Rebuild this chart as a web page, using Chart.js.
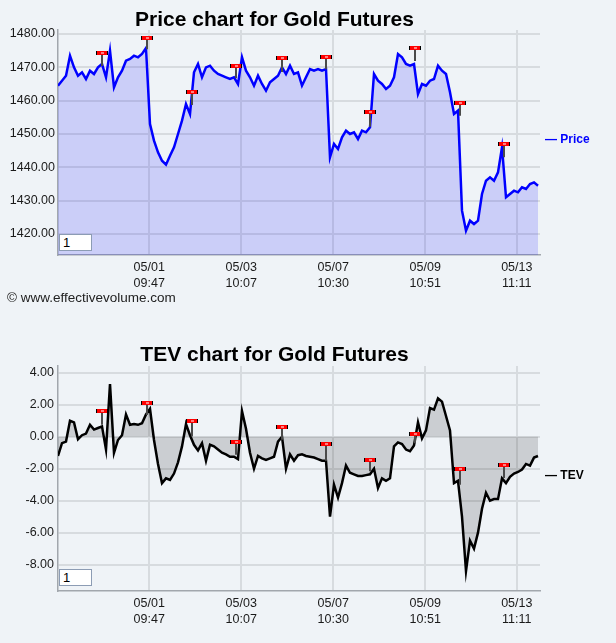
<!DOCTYPE html>
<html>
<head>
<meta charset="utf-8">
<script src="https://cdn.jsdelivr.net/npm/chart.js@4.4.0/dist/chart.umd.min.js"></script>
<style>
  html, body { margin: 0; padding: 0; background: #eff3f7; }
  body { width: 616px; height: 643px; position: relative; overflow: hidden; font-family: "Liberation Sans", Arial, sans-serif; color: #111; }
  canvas { position: absolute; left: 0; }
  #priceCanvas { top: 0; }
  #tevCanvas { top: 310px; }
  .title { position: absolute; left: 0; width: 549px; text-align: center; font-weight: bold; font-size: 21px; line-height: 21px; color: #000; }
  .legend { position: absolute; left: 545px; font-weight: bold; font-size: 12px; line-height: 14px; white-space: nowrap; }
  .box { position: absolute; left: 59px; width: 33px; height: 17px; box-sizing: border-box; background: #fff; border: 1px solid #8c9cb4; font-size: 13px; line-height: 15px; padding-left: 3px; color: #000; }
  .copy { position: absolute; left: 7px; top: 290px; font-size: 13.5px; line-height: 16px; color: #222; white-space: nowrap; }
</style>
</head>
<body>
<canvas id="priceCanvas" width="616" height="300"></canvas>
<canvas id="tevCanvas" width="616" height="333"></canvas>
<div class="title" style="top:8px">Price chart for Gold Futures</div>
<div class="title" style="top:343px">TEV chart for Gold Futures</div>
<div class="legend" style="top:132px;color:#0000ff">— Price</div>
<div class="legend" style="top:468px;color:#000">— TEV</div>
<div class="box" style="top:234px">1</div>
<div class="box" style="top:569px">1</div>
<div class="copy">© www.effectivevolume.com</div>

<script>
// --- data (one point every ~4px) ---
const xTickPos = [22.8, 45.8, 68.8, 91.8, 114.7];
const xTickLabels = [['05/01', '09:47'], ['05/03', '10:07'], ['05/07', '10:30'], ['05/09', '10:51'], ['05/13', '11:11']];

const priceTicks = [1420, 1430, 1440, 1450, 1460, 1470, 1480];
const tevTicks = [-8, -6, -4, -2, 0, 2, 4];

const priceValues = [
  1464.5, 1466, 1467.5, 1473.5, 1470, 1467.5, 1468.5, 1466.5, 1469, 1468,
  1470, 1471, 1467, 1475, 1464, 1467, 1469, 1472, 1472.5, 1473.5,
  1473, 1474, 1475.8, 1453, 1448, 1444.5, 1442, 1440.8, 1443.5, 1446,
  1450, 1454, 1459, 1456, 1468.5, 1471, 1467, 1470, 1470.5, 1469,
  1468, 1467.5, 1467, 1466.5, 1467, 1465, 1473, 1469, 1467, 1464.5,
  1467.5, 1465, 1463, 1465.5, 1466.5, 1467.5, 1470, 1468, 1470.5, 1468,
  1468.5,
  1464.5, 1467, 1469.5, 1469, 1469.5, 1469, 1469.5, 1443, 1447, 1445.5,
  1449, 1451, 1450, 1450.5, 1448.5, 1451, 1450.5, 1452, 1468, 1466,
  1465, 1463.5, 1464.5, 1467, 1474, 1473, 1471, 1470.5, 1471, 1462,
  1465, 1464.5, 1466, 1466.5, 1470.5, 1469, 1468, 1462.5, 1456, 1457,
  1427, 1421, 1424, 1423, 1424, 1432, 1436, 1437, 1436, 1438.5,
  1446, 1431, 1432, 1433, 1432.5, 1434, 1433.5, 1435, 1435.5, 1434.5
];

const tevValues = [
  -1.2, -0.4, -0.3, 1.0, 0.9, -0.15, 0.1, 0.2, 0.75, 0.45,
  0.55, 0.65, -0.8, 3.3, -1.0, -0.2, 0.1, 1.4, 0.75, 0.8,
  0.75, 0.85, 1.4, 1.75, -0.2, -1.7, -2.9, -2.6, -2.7, -2.3,
  -1.6, -0.6, 0.8, 0.1, -0.5, -0.85, -0.4, -1.5, -0.5, -0.6,
  -0.8, -1.0, -1.1, -1.25, -1.25, -1.4, 1.6, 0.5, -1.0, -2.0,
  -1.2, -1.35, -1.45, -1.35, -1.25, -0.3, 0.0, -2.0, -1.1, -1.5,
  -1.15,
  -1.1, -1.2, -1.25, -1.3, -1.4, -1.5, -1.5, -5.0, -3.0, -3.8,
  -2.9, -1.8, -2.25, -2.35, -2.45, -2.45, -2.4, -2.35, -2.0, -3.2,
  -2.6, -2.75, -2.6, -0.6, -0.35, -0.45, -0.8, -0.9, -0.55, 0.9,
  -0.1, 0.4, 1.8, 1.7, 2.4, 2.2, 1.3, 0.4, -2.9, -2.75,
  -5.0, -8.4, -6.5, -7.0, -6.0, -4.5, -3.5, -4.0, -3.9, -3.9,
  -2.6, -2.9, -2.5, -2.3, -2.2, -2.05, -1.7, -1.8, -1.3, -1.2
];

// red flags: same times on both charts
const flagIdx = [11.1, 22.25, 33.5, 44.5, 55.9, 67, 78.1, 89.3, 100.6, 111.6];
const priceFlagTop = [1474.4, 1478.9, 1462.7, 1470.5, 1472.9, 1473.2, 1456.5, 1475.9, 1459.4, 1446.9];
const priceFlagBase = [1470.4, 1475.4, 1458.7, 1466.7, 1468.6, 1469.4, 1452.2, 1471.9, 1455.5, 1443];
const tevFlagTop = [1.62, 2.1, 1.0, -0.33, 0.6, -0.46, -1.46, 0.17, -2.02, -1.75];
const tevFlagBase = [0.75, 1.37, 0.02, -1.12, -0.19, -1.5, -2.16, -0.4, -3.0, -2.58];

Chart.defaults.font.family = '"Liberation Sans", Arial, sans-serif';
Chart.defaults.color = '#1a1a1a';

// draws the flag sticks + red markers using the chart scales
const flagPlugin = {
  id: 'flags',
  afterDatasetsDraw(chart, args, opts) {
    const { ctx, scales } = chart;
    ctx.save();
    opts.xs.forEach((xv, i) => {
      const x = Math.round(scales.x.getPixelForValue(xv));
      const yTop = Math.round(scales.y.getPixelForValue(opts.tops[i]));
      const yBase = scales.y.getPixelForValue(opts.bases[i]);
      ctx.strokeStyle = '#4a4a4a';
      ctx.lineWidth = 2;
      ctx.beginPath();
      ctx.moveTo(x, yTop);
      ctx.lineTo(x, yBase);
      ctx.stroke();
      ctx.fillStyle = '#000';
      ctx.fillRect(x - 6, yTop - 2, 12, 4);
      ctx.fillStyle = '#ff0000';
      ctx.fillRect(x - 5, yTop - 2, 10, 4);
      ctx.fillStyle = '#fff';
      ctx.fillRect(x - 1, yTop - 0.5, 3, 1);
    });
    ctx.restore();
  }
};

function makeChart(canvasId, values, cfg) {
  const ctx = document.getElementById(canvasId);
  return new Chart(ctx, {
    type: 'line',
    data: {
      datasets: [{
        data: values.map((v, i) => ({ x: i, y: v })),
        borderColor: cfg.lineColor,
        backgroundColor: cfg.fillColor,
        borderWidth: 2.5,
        pointRadius: 0,
        tension: 0,
        fill: cfg.fill
      }]
    },
    options: {
      responsive: false,
      animation: false,
      layout: { padding: { top: cfg.top, right: 76, left: 0, bottom: 0 } },
      plugins: {
        legend: { display: false },
        tooltip: { enabled: false },
        flags: { xs: flagIdx, tops: cfg.flagTop, bases: cfg.flagBase }
      },
      scales: {
        x: {
          type: 'linear',
          min: 0,
          max: 120.5,
          afterFit: (scale) => { scale.height = cfg.xHeight; },
          afterBuildTicks: (scale) => { scale.ticks = xTickPos.map(v => ({ value: v })); },
          grid: { color: '#d7dbdf', lineWidth: 2, drawTicks: false },
          border: { color: '#a2a7ad', width: 1.5 },
          ticks: {
            autoSkip: false,
            maxRotation: 0,
            padding: 4,
            font: { size: 12.5, lineHeight: 1.32 },
            callback: (v, i) => xTickLabels[i]
          }
        },
        y: {
          min: cfg.yMin,
          max: cfg.yMax,
          afterFit: (scale) => { scale.width = 58; },
          afterBuildTicks: (scale) => { scale.ticks = cfg.yTicks.map(v => ({ value: v })); },
          grid: { color: '#d7dbdf', lineWidth: 2, drawTicks: false },
          border: { color: '#a2a7ad', width: 1.5 },
          ticks: {
            padding: cfg.yPad,
            font: { size: 12.5 },
            callback: (v) => Number(v).toFixed(2)
          }
        }
      }
    },
    plugins: [flagPlugin]
  });
}

makeChart('priceCanvas', priceValues, {
  lineColor: '#0000ff',
  fillColor: 'rgba(0, 0, 255, 0.15)',
  fill: 'start',
  top: 30,
  xHeight: 45,
  yMin: 1413.7,
  yMax: 1481.2,
  yTicks: priceTicks,
  yPad: 3,
  flagTop: priceFlagTop,
  flagBase: priceFlagBase
});

makeChart('tevCanvas', tevValues, {
  lineColor: '#000000',
  fillColor: 'rgba(0, 0, 0, 0.15)',
  fill: { value: 0 },
  top: 56,
  xHeight: 52,
  yMin: -9.65,
  yMax: 4.43,
  yTicks: tevTicks,
  yPad: 4,
  flagTop: tevFlagTop,
  flagBase: tevFlagBase
});
</script>
</body>
</html>
